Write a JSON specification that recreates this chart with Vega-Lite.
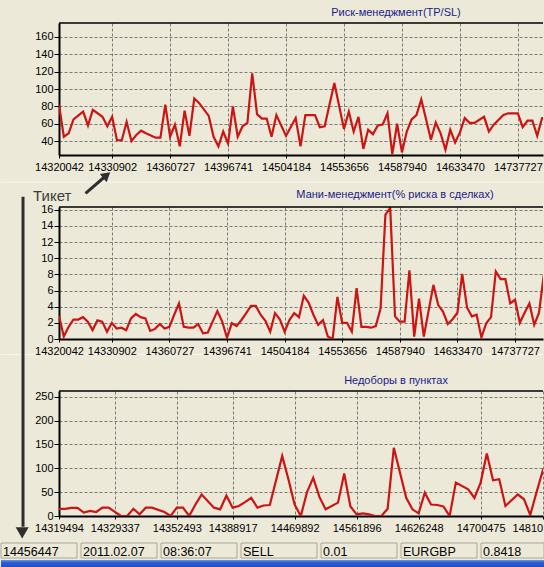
{
  "$schema": "https://vega.github.io/schema/vega-lite/v6.json",
  "padding": {"top": 7, "left": 0, "right": 0, "bottom": 0},
  "spacing": 3,
  "bounds": "full",
  "config": {
    "background": "#ECE9D8",
    "view": {"stroke": null},
    "font": "Liberation Sans",
    "axis": {"labelFont": "Liberation Sans", "labelFontSize": 11, "labelColor": "#000000", "domainColor": "#000000", "domainWidth": 2, "tickColor": "#000000", "gridColor": "#7a7a7a", "gridDash": [3, 2], "gridWidth": 1, "labelOverlap": false, "labelFlush": false, "tickCount": 30},
    "axisX": {"labelPadding": 3, "labelAngle": 0, "tickSize": 3},
    "axisY": {"labelPadding": 1, "tickSize": 5, "format": "d"},
    "title": {"font": "Liberation Sans", "fontSize": 11, "fontWeight": "normal", "color": "#1a1a8c", "anchor": "middle", "frame": "group", "offset": 4}
  },
  "vconcat": [
    {
      "spacing": 52,
      "bounds": "flush",
      "vconcat": [
        {
          "width": 484, "height": 132,
          "title": {"text": "Риск-менеджмент(TP/SL)", "dx": 95},
          "data": {"values": [
            {"i":0,"v":82},{"i":1,"v":45},{"i":2,"v":49},{"i":3,"v":65},{"i":5,"v":74},{"i":6,"v":58},{"i":7,"v":76},{"i":9,"v":68},{"i":10,"v":57},{"i":11,"v":68},{"i":12,"v":41},{"i":13,"v":41},{"i":14,"v":62},{"i":15,"v":40},{"i":16,"v":47},{"i":17,"v":52},{"i":18,"v":49},{"i":20,"v":44},{"i":21,"v":44},{"i":22,"v":82},{"i":23,"v":45},{"i":24,"v":59},{"i":25,"v":34},{"i":26,"v":75},{"i":27,"v":46},{"i":28,"v":89},{"i":29,"v":84},{"i":31,"v":69},{"i":32,"v":45},{"i":33,"v":34},{"i":34,"v":51},{"i":35,"v":37},{"i":36,"v":80},{"i":37,"v":45},{"i":38,"v":57},{"i":39,"v":61},{"i":40,"v":118},{"i":41,"v":71},{"i":42,"v":66},{"i":43,"v":66},{"i":44,"v":45},{"i":45,"v":70},{"i":47,"v":46},{"i":49,"v":66.5},{"i":50,"v":34},{"i":51,"v":70},{"i":53,"v":70},{"i":54,"v":56},{"i":55,"v":57},{"i":57,"v":107},{"i":59,"v":54},{"i":60,"v":74},{"i":61,"v":51},{"i":62,"v":68},{"i":63,"v":31},{"i":64,"v":53},{"i":65,"v":48},{"i":66,"v":58},{"i":67,"v":59},{"i":68,"v":72},{"i":69,"v":25},{"i":70,"v":60},{"i":71,"v":27},{"i":72,"v":51},{"i":73,"v":65},{"i":74,"v":70},{"i":75,"v":88},{"i":76,"v":65},{"i":77,"v":41.5},{"i":78,"v":61.5},{"i":79,"v":49},{"i":80,"v":30},{"i":81,"v":53},{"i":82,"v":38.5},{"i":83,"v":50},{"i":84,"v":66.5},{"i":85,"v":61},{"i":86,"v":61},{"i":88,"v":68},{"i":89,"v":51},{"i":90,"v":59},{"i":92,"v":70},{"i":93,"v":72},{"i":95,"v":72},{"i":96,"v":56},{"i":97,"v":63.5},{"i":98,"v":63.5},{"i":99,"v":46},{"i":100,"v":66.5},{"i":101,"v":66}
          ]},
          "layer": [
            {
              "mark": {"type": "line", "color": "#cc1414", "strokeWidth": 2.2, "clip": true},
              "encoding": {
                "x": {"field": "i", "type": "quantitative", "scale": {"domain": [0, 100.2], "nice": false, "zero": false},
                      "axis": {"title": null, "values": [0, 11, 23, 35, 47, 59, 71, 83, 95],
                               "labelExpr": "datum.value==0?'14320042':datum.value==11?'14330902':datum.value==23?'14360727':datum.value==35?'14396741':datum.value==47?'14504184':datum.value==59?'14553656':datum.value==71?'14587940':datum.value==83?'14633470':'14737727'"}},
                "y": {"field": "v", "type": "quantitative", "scale": {"domain": [24, 176], "nice": false, "zero": false},
                      "axis": {"title": null, "values": [40, 60, 80, 100, 120, 140, 160]}}
              }
            },
            {"data": {"values": [{}]}, "mark": {"type": "rule", "color": "#000000", "strokeWidth": 1.5}, "encoding": {"y": {"datum": 176}}},
            {"data": {"values": [{}]}, "mark": {"type": "rule", "color": "#f7f6ef", "strokeWidth": 1},
             "encoding": {"x": {"datum": -12.0}, "x2": {"datum": 100.2}, "y": {"datum": -7.1}}},
            {"data": {"values": [{}]}, "mark": {"type": "rule", "color": "#f7f6ef", "strokeWidth": 1},
             "encoding": {"x": {"datum": -12.0}, "x2": {"datum": 100.2}, "y": {"datum": -205.7}}},
            {"data": {"values": [{}]}, "mark": {"type": "text", "text": "Тикет", "align": "left", "baseline": "alphabetic", "fontSize": 15, "color": "#3c3c3c", "font": "Liberation Sans"},
             "encoding": {"x": {"datum": -5.38}, "y": {"datum": -28.4}}},
            {"data": {"values": [{}]}, "mark": {"type": "rule", "color": "#2e2e2e", "strokeWidth": 3},
             "encoding": {"x": {"datum": 5.49}, "y": {"datum": -20.1}, "x2": {"datum": 9.42}, "y2": {"datum": -1.33}}},
            {"data": {"values": [{}]}, "mark": {"type": "point", "shape": "triangle-up", "filled": true, "color": "#2e2e2e", "opacity": 1, "size": 110, "angle": 50},
             "encoding": {"x": {"datum": 9.88}, "y": {"datum": 0.74}}},
            {"data": {"values": [{}]}, "mark": {"type": "rule", "color": "#2e2e2e", "strokeWidth": 3},
             "encoding": {"x": {"datum": -7.45}, "y": {"datum": -24.0}, "y2": {"datum": -404}}},
            {"data": {"values": [{}]}, "mark": {"type": "point", "shape": "triangle-down", "filled": true, "color": "#2e2e2e", "opacity": 1, "size": 170},
             "encoding": {"x": {"datum": -7.62}, "y": {"datum": -411.1}}}
          ]
        },
        {
          "width": 484, "height": 132,
          "title": {"text": "Мани-менеджмент(% риска в сделках)", "dx": 94},
          "data": {"values": [
            {"i":0,"v":2.85},{"i":1,"v":0.3},{"i":2,"v":1.5},{"i":3,"v":2.4},{"i":4,"v":2.4},{"i":5,"v":2.7},{"i":6,"v":2.15},{"i":7,"v":1.1},{"i":8,"v":2.3},{"i":9,"v":2.15},{"i":10,"v":0.9},{"i":11,"v":2.0},{"i":12,"v":1.3},{"i":13,"v":1.4},{"i":14,"v":1.1},{"i":15,"v":2.55},{"i":16,"v":3.1},{"i":17,"v":2.7},{"i":18,"v":2.55},{"i":19,"v":1.0},{"i":20,"v":1.25},{"i":21,"v":1.85},{"i":22,"v":1.3},{"i":23,"v":1.5},{"i":24,"v":3.0},{"i":25,"v":4.4},{"i":26,"v":1.5},{"i":27,"v":1.4},{"i":28,"v":1.4},{"i":29,"v":1.85},{"i":30,"v":0.7},{"i":31,"v":0.8},{"i":32,"v":2.15},{"i":33,"v":3.45},{"i":34,"v":2.15},{"i":35,"v":0.15},{"i":36,"v":1.95},{"i":37,"v":1.6},{"i":38,"v":2.35},{"i":39,"v":3.2},{"i":40,"v":4.1},{"i":41,"v":4.1},{"i":42,"v":3.0},{"i":43,"v":2.25},{"i":44,"v":0.9},{"i":45,"v":3.2},{"i":46,"v":2.45},{"i":47,"v":0.9},{"i":48,"v":2.35},{"i":49,"v":3.2},{"i":50,"v":2.7},{"i":51,"v":5.35},{"i":52,"v":4.5},{"i":53,"v":3.0},{"i":54,"v":1.75},{"i":55,"v":2.35},{"i":56,"v":0.3},{"i":57,"v":0},{"i":58,"v":5.2},{"i":59,"v":2.0},{"i":60,"v":2.0},{"i":61,"v":0.9},{"i":62,"v":6.3},{"i":63,"v":1.5},{"i":64,"v":1.5},{"i":65,"v":1.4},{"i":66,"v":1.6},{"i":67,"v":3.8},{"i":68,"v":15.4},{"i":69,"v":16.2},{"i":70,"v":2.8},{"i":71,"v":2.15},{"i":72,"v":2.15},{"i":73,"v":8.5},{"i":74,"v":0.3},{"i":75,"v":5.0},{"i":76,"v":0.3},{"i":78,"v":6.7},{"i":79,"v":4.2},{"i":80,"v":3.4},{"i":81,"v":1.85},{"i":82,"v":2.45},{"i":83,"v":3.25},{"i":84,"v":8.05},{"i":85,"v":3.9},{"i":86,"v":2.8},{"i":87,"v":3.0},{"i":88,"v":0.2},{"i":89,"v":1.95},{"i":90,"v":2.7},{"i":91,"v":8.35},{"i":92,"v":7.4},{"i":93,"v":7.4},{"i":94,"v":4.4},{"i":95,"v":4.85},{"i":96,"v":2.0},{"i":97,"v":3.25},{"i":98,"v":4.4},{"i":99,"v":1.75},{"i":100,"v":3.25},{"i":101,"v":7.95}
          ]},
          "layer": [
            {
              "mark": {"type": "line", "color": "#cc1414", "strokeWidth": 2.2, "clip": true},
              "encoding": {
                "x": {"field": "i", "type": "quantitative", "scale": {"domain": [0, 100.83], "nice": false, "zero": false},
                      "axis": {"title": null, "values": [0, 11, 23, 35, 47, 59, 71, 83, 95],
                               "labelExpr": "datum.value==0?'14320042':datum.value==11?'14330902':datum.value==23?'14360727':datum.value==35?'14396741':datum.value==47?'14504184':datum.value==59?'14553656':datum.value==71?'14587940':datum.value==83?'14633470':'14737727'"}},
                "y": {"field": "v", "type": "quantitative", "scale": {"domain": [0, 16.33], "nice": false, "zero": false},
                      "axis": {"title": null, "format": "d", "values": [0, 2, 4, 6, 8, 10, 12, 14, 16]}}
              }
            },
            {"data": {"values": [{}]}, "mark": {"type": "rule", "color": "#000000", "strokeWidth": 1.5}, "encoding": {"y": {"datum": 16.33}}}
          ]
        },
        {
          "width": 484, "height": 125,
          "title": {"text": "Недоборы в пунктах", "dx": 95},
          "data": {"values": [
            {"i":0,"v":15},{"i":1,"v":15},{"i":2,"v":17},{"i":3,"v":17},{"i":4,"v":7},{"i":5,"v":10.5},{"i":6,"v":8.4},{"i":7,"v":17.5},{"i":8,"v":17.5},{"i":10,"v":0},{"i":11,"v":0},{"i":12,"v":15},{"i":13,"v":3.5},{"i":14,"v":17.5},{"i":15,"v":17.5},{"i":17,"v":8.4},{"i":18,"v":0},{"i":19,"v":17.5},{"i":20,"v":17.5},{"i":21,"v":0},{"i":22,"v":24},{"i":23,"v":45},{"i":25,"v":17.5},{"i":26,"v":14},{"i":27,"v":43},{"i":28,"v":17.5},{"i":29,"v":21},{"i":30,"v":29},{"i":31,"v":38},{"i":32,"v":17.5},{"i":33,"v":22},{"i":34,"v":23},{"i":36,"v":126},{"i":37,"v":77},{"i":38,"v":24},{"i":39,"v":0},{"i":40,"v":50},{"i":41,"v":80},{"i":42,"v":40},{"i":43,"v":14},{"i":45,"v":28},{"i":46,"v":89},{"i":47,"v":20},{"i":48,"v":3.5},{"i":49,"v":5.6},{"i":50,"v":3.5},{"i":51,"v":0},{"i":52,"v":0},{"i":53,"v":15},{"i":54,"v":143},{"i":56,"v":38},{"i":57,"v":14},{"i":58,"v":5.6},{"i":59,"v":49},{"i":60,"v":24},{"i":61,"v":23},{"i":62,"v":20},{"i":63,"v":0},{"i":64,"v":70},{"i":66,"v":56},{"i":67,"v":38},{"i":68,"v":70},{"i":69,"v":131},{"i":70,"v":75},{"i":71,"v":77},{"i":72,"v":21},{"i":74,"v":45},{"i":75,"v":35},{"i":76,"v":2},{"i":77,"v":49},{"i":78,"v":94},{"i":79,"v":60}
          ]},
          "layer": [
            {
              "mark": {"type": "line", "color": "#cc1414", "strokeWidth": 2.2, "clip": true},
              "encoding": {
                "x": {"field": "i", "type": "quantitative", "scale": {"domain": [0, 78.06], "nice": false, "zero": false},
                      "axis": {"title": null, "values": [0, 9, 19, 28, 38, 48, 58, 68, 78],
                               "labelAlign": {"condition": {"test": "datum.value == 78", "value": "right"}, "value": "center"},
                               "labelExpr": "datum.value==0?'14319494':datum.value==9?'14329337':datum.value==19?'14352493':datum.value==28?'14388917':datum.value==38?'14469892':datum.value==48?'14561896':datum.value==58?'14626248':datum.value==68?'14700475':'14810'"}},
                "y": {"field": "v", "type": "quantitative", "scale": {"domain": [0, 262], "nice": false, "zero": false},
                      "axis": {"title": null, "values": [0, 50, 100, 150, 200, 250]}}
              }
            },
            {"data": {"values": [{}]}, "mark": {"type": "rule", "color": "#000000", "strokeWidth": 1.5}, "encoding": {"y": {"datum": 262}}}
          ]
        }
      ]
    },
    {
      "spacing": 2,
      "bounds": "flush",
      "vconcat": [
        {
          "width": 484, "height": 15,
          "data": {"values": [
            {"k": 0, "t": "14456447"}, {"k": 1, "t": "2011.02.07"}, {"k": 2, "t": "08:36:07"}, {"k": 3, "t": "SELL"}, {"k": 4, "t": "0.01"}, {"k": 5, "t": "EURGBP"}, {"k": 6, "t": "0.8418"}
          ]},
          "layer": [
            {
              "transform": [{"filter": "datum.k < 6"}],
              "mark": {"type": "rect", "fill": "transparent", "stroke": "#a9a799", "strokeWidth": 1, "x2Offset": 76},
              "encoding": {
                "x": {"field": "k", "type": "quantitative", "scale": {"domain": [0, 7], "range": [-58, 502], "nice": false, "zero": false}, "axis": null},
                "x2": {"field": "k"}
              }
            },
            {
              "transform": [{"filter": "datum.k == 6"}],
              "mark": {"type": "rect", "fill": "transparent", "stroke": "#a9a799", "strokeWidth": 1, "x2Offset": 63},
              "encoding": {
                "x": {"field": "k", "type": "quantitative"},
                "x2": {"field": "k"}
              }
            },
            {
              "mark": {"type": "text", "align": "left", "baseline": "middle", "dx": 2, "dy": 1.5, "fontSize": 12.5, "color": "#000000", "font": "Liberation Sans"},
              "encoding": {
                "x": {"field": "k", "type": "quantitative"},
                "text": {"field": "t"}
              }
            }
          ]
        },
        {
          "width": 484, "height": 8,
          "data": {"values": [{}]},
          "mark": {"type": "rect", "fill": {"gradient": "linear", "x1": 0, "y1": 0, "x2": 0, "y2": 1, "stops": [{"offset": 0, "color": "#6d97e8"}, {"offset": 0.3, "color": "#2d5fd3"}, {"offset": 1, "color": "#1c4bbd"}]}},
          "encoding": {
            "x": {"datum": 0, "type": "quantitative", "scale": {"domain": [0, 7], "range": [-58, 502], "nice": false, "zero": false}, "axis": null},
            "x2": {"datum": 6.79}
          }
        }
      ]
    }
  ]
}
